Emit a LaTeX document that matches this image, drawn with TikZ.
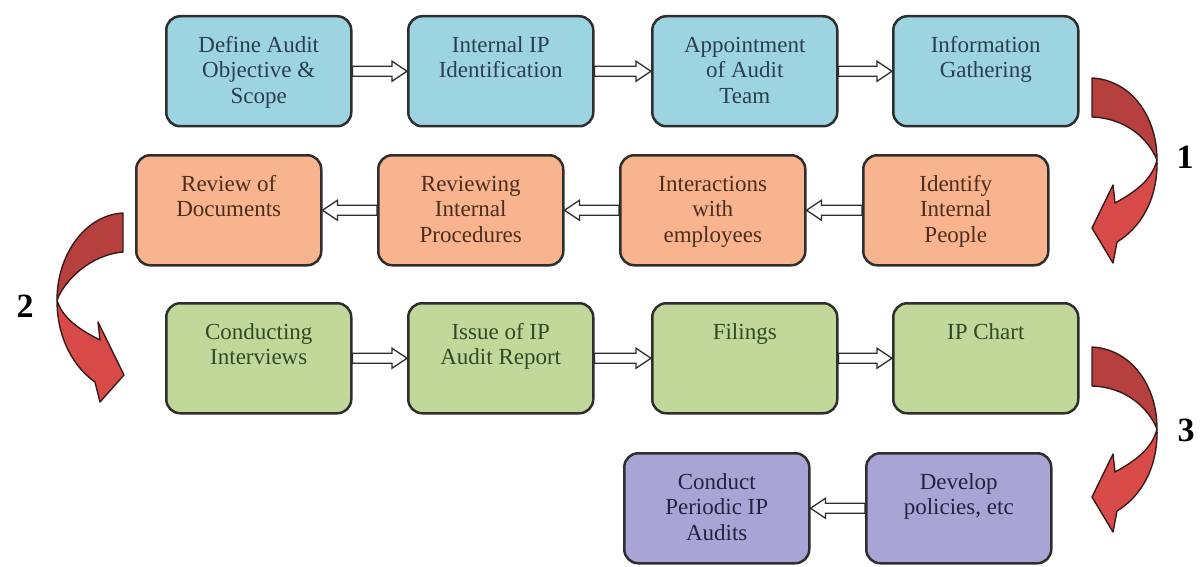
\documentclass[tikz,border=0pt]{standalone}
\usepackage{fontspec}
\setmainfont{Liberation Serif}
\usetikzlibrary{calc,backgrounds}
\definecolor{bluefill}{HTML}{9CD4E2}
\definecolor{orangefill}{HTML}{F8B48F}
\definecolor{greenfill}{HTML}{C2D89A}
\definecolor{purplefill}{HTML}{A8A5D6}
\definecolor{bluetext}{HTML}{2B3F4F}
\definecolor{orangetext}{HTML}{4D2E1E}
\definecolor{greentext}{HTML}{2F4A24}
\definecolor{purpletext}{HTML}{23233F}
\definecolor{edge}{HTML}{2E2E2E}
\definecolor{reddark}{HTML}{B5403D}
\definecolor{redlight}{HTML}{D84A48}
\definecolor{redline}{HTML}{3A1A1A}
\newcommand{\bt}[1]{\parbox[c][110pt][t]{178pt}{\centering\rule{0pt}{36pt}#1}}
\tikzset{
  box/.style={draw=edge, line width=2.5pt, rounded corners=14pt, inner sep=0pt,
    minimum width=185pt, minimum height=110pt, anchor=north west,
    font=\fontsize{23pt}{25.5pt}\selectfont},
  bluebox/.style={box, fill=bluefill, text=bluetext},
  orangebox/.style={box, fill=orangefill, text=orangetext},
  greenbox/.style={box, fill=greenfill, text=greentext},
  purplebox/.style={box, fill=purplefill, text=purpletext},
  hollow/.style={draw=edge, line width=1.3pt, fill=white, line join=miter},
  arrR/.style={hollow, to path={
    ($(\tikztostart)+(0,-5)$) -- ($(\tikztotarget)+(-15,-5)$) -- ($(\tikztotarget)+(-15,-10)$)
    -- (\tikztotarget) -- ($(\tikztotarget)+(-15,10)$) -- ($(\tikztotarget)+(-15,5)$)
    -- ($(\tikztostart)+(0,5)$) -- cycle}},
  arrL/.style={hollow, to path={
    ($(\tikztostart)+(0,-5)$) -- ($(\tikztotarget)+(15,-5)$) -- ($(\tikztotarget)+(15,-10)$)
    -- (\tikztotarget) -- ($(\tikztotarget)+(15,10)$) -- ($(\tikztotarget)+(15,5)$)
    -- ($(\tikztostart)+(0,5)$) -- cycle}},
  ribbon/.style={draw=redline, line width=1.4pt, line join=round},
  num/.style={font=\fontsize{34pt}{34pt}\selectfont\bfseries, text=black, inner sep=0pt}
}
\begin{document}
\begin{tikzpicture}[x=1pt, y=-1pt]
\useasboundingbox (0,0) rectangle (1201,567);

% Row 1
\node[bluebox] (def) at (165,15) {\bt{Define Audit\\Objective \&\\Scope}};
\node[bluebox] (iid) at (407,15) {\bt{Internal IP\\Identification}};
\node[bluebox] (app) at (651,15) {\bt{Appointment\\of Audit\\Team}};
\node[bluebox] (inf) at (892,15) {\bt{Information\\Gathering}};
% Row 2
\node[orangebox] (rev) at (135,154) {\bt{Review of\\Documents}};
\node[orangebox] (rip) at (377,154) {\bt{Reviewing\\Internal\\Procedures}};
\node[orangebox] (int) at (619,154) {\bt{Interactions\\with\\employees}};
\node[orangebox] (idp) at (862,154) {\bt{Identify\\Internal\\People}};
% Row 3
\node[greenbox] (con) at (165,302) {\bt{Conducting\\Interviews}};
\node[greenbox] (iss) at (407,302) {\bt{Issue of IP\\Audit Report}};
\node[greenbox] (fil) at (651,302) {\bt{Filings}};
\node[greenbox] (ipc) at (892,302) {\bt{IP Chart}};
% Row 4
\node[purplebox] (cpa) at (623,452) {\bt{Conduct\\Periodic IP\\Audits}};
\node[purplebox] (dev) at (865,452) {\bt{Develop\\policies, etc}};

% step numbers
\node[num] (n1) at (1185,157) {1};
\node[num] (n2) at (25,306) {2};
\node[num] (n3) at (1186,430) {3};

\begin{pgfonlayer}{background}
\fill[white] (0,0) rectangle (1201,567);
\draw[arrR] (def.east) to (iid.west);
\draw[arrR] (iid.east) to (app.west);
\draw[arrR] (app.east) to (inf.west);
\draw[arrL] (idp.west) to (int.east);
\draw[arrL] (int.west) to (rip.east);
\draw[arrL] (rip.west) to (rev.east);
\draw[arrR] (con.east) to (iss.west);
\draw[arrR] (iss.east) to (fil.west);
\draw[arrR] (fil.east) to (ipc.west);
\draw[arrL] (dev.west) to (cpa.east);
\end{pgfonlayer}

% curved arrow 1 (Information Gathering -> Identify Internal People)
\draw[ribbon, fill=redlight] (1157,160) .. controls (1158,200) and (1140,228) .. (1117,242)
  -- (1113,263) -- (1092,228) -- (1113,185) -- (1115,203)
  .. controls (1135,192) and (1152,180) .. (1157,160) -- cycle;
\draw[ribbon, fill=reddark] (1092,78) .. controls (1130,80) and (1157,115) .. (1157,160)
  .. controls (1148,138) and (1125,118) .. (1092,117) -- cycle;

% curved arrow 3 (IP Chart -> Develop policies)
\begin{scope}[yshift=-269pt]
\draw[ribbon, fill=redlight] (1157,160) .. controls (1158,200) and (1140,228) .. (1117,242)
  -- (1113,263) -- (1092,228) -- (1113,185) -- (1115,203)
  .. controls (1135,192) and (1152,180) .. (1157,160) -- cycle;
\draw[ribbon, fill=reddark] (1092,78) .. controls (1130,80) and (1157,115) .. (1157,160)
  .. controls (1148,138) and (1125,118) .. (1092,117) -- cycle;
\end{scope}

% curved arrow 2 (Review of Documents -> Conducting Interviews)
\draw[ribbon, fill=redlight] (57,300) .. controls (57,340) and (75,368) .. (95,382)
  -- (100,402) -- (124,375) -- (98,322) -- (100,340)
  .. controls (80,330) and (62,318) .. (57,300) -- cycle;
\draw[ribbon, fill=reddark] (123,213) .. controls (85,215) and (57,255) .. (57,300)
  .. controls (65,280) and (90,255) .. (123,252) -- cycle;
\end{tikzpicture}
\end{document}
